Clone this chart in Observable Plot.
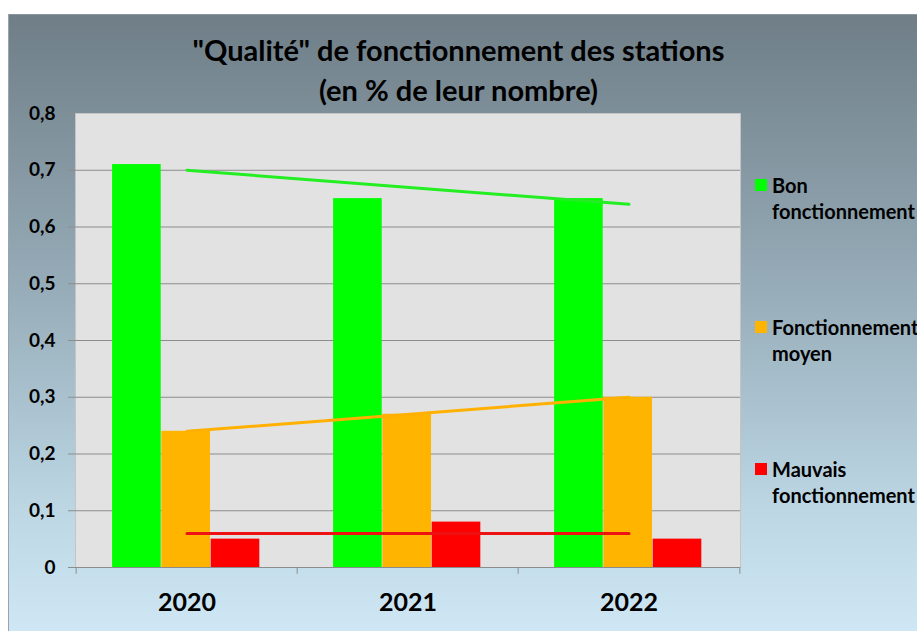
<!DOCTYPE html>
<html>
<head>
<meta charset="utf-8">
<script src="https://cdn.jsdelivr.net/npm/d3@7"></script>
<script src="https://cdn.jsdelivr.net/npm/@observablehq/plot@0.6"></script>
<style>
  html, body { margin: 0; padding: 0; background: #fff; }
  #wrap { position: relative; width: 917px; height: 631px; overflow: hidden; background: #fff; font-family: Lato, "Open Sans", sans-serif; }
  #bg { position: absolute; left: 8px; top: 14px; right: 0; bottom: 0; border-left: 1px solid #9aa4aa; border-top: 1px solid #8a969c;
        background: linear-gradient(to bottom, #6f7e87 0%, #97adb9 45%, #bcd6e4 80%, #cfe7f4 100%); }
  #title { position: relative; height: 100px; box-sizing: border-box; padding-top: 30px; text-align: center; font-weight: 700; font-size: 29px; line-height: 40px; color: #000; }
  #chart { position: relative; }
  #legend { position: absolute; left: 755px; top: 172px; }
  .item { position: relative; height: 52px; margin-bottom: 90px; padding-left: 17px; font-weight: 700; font-size: 20px; line-height: 26px; white-space: nowrap; color: #000; }
  .sw { position: absolute; left: 0; top: 7px; width: 12px; height: 12px; }
</style>
</head>
<body>
<div id="wrap">
  <div id="bg"></div>
  <div id="title">"Qualité" de fonctionnement des stations<br>(en % de leur nombre)</div>
  <div id="chart"></div>
  <div id="legend"></div>
</div>
<script>
const years = ["2020", "2021", "2022"];
const series = ["Bon fonctionnement", "Fonctionnement moyen", "Mauvais fonctionnement"];
const legendLines = [["Bon", "fonctionnement"], ["Fonctionnement", "moyen"], ["Mauvais", "fonctionnement"]];
const bon = [0.71, 0.65, 0.65];
const moyen = [0.24, 0.27, 0.30];
const mauvais = [0.05, 0.08, 0.05];
const trendYears = ["2020", "2022"];
const trendBon = [0.70, 0.64];
const trendMoyen = [0.24, 0.30];
const trendMauvais = [0.06, 0.06];
const yTicks = [0, 0.1, 0.2, 0.3, 0.4, 0.5, 0.6, 0.7, 0.8];
const colors = ["#00ff00", "#ffb400", "#ff0000"];
const trendColors = ["#22ee22", "#ffb000", "#ee1111"];

const W = 917, H = 531, ML = 75, MR = 177, MT = 13, MB = 64;
const band = (W - ML - MR) / years.length;
const barW = 49.3;
const inset = (band - barW) / 2;
const offsets = [-barW, 0, barW];

const values = [bon, moyen, mauvais];
const trends = [trendBon, trendMoyen, trendMauvais];

const barMarks = values.map((vals, i) =>
  Plot.barY(years.map((y, j) => ({year: y, value: vals[j]})), {
    x: "year", y: "value", fill: colors[i], insetLeft: inset, insetRight: inset, dx: offsets[i] - 0.8
  })
);
const trendMarks = trends.map((t, i) =>
  Plot.line(trendYears.map((y, j) => ({year: y, value: t[j]})), {
    x: "year", y: "value", stroke: trendColors[i], strokeWidth: 3
  })
);

const fmt = d => d === 0 ? "0" : d.toFixed(1).replace(".", ",");

const chart = Plot.plot({
  width: W, height: H,
  marginLeft: ML, marginRight: MR, marginTop: MT, marginBottom: MB,
  style: {background: "transparent", overflow: "visible", fontFamily: "Lato, 'Open Sans', sans-serif"},
  x: {type: "band", domain: years, padding: 0},
  y: {domain: [0, 0.8]},
  marks: [
    Plot.frame({fill: "#e2e2e2", stroke: "#c4c4c4"}),
    Plot.gridY(yTicks.filter(t => t > 0 && t < 0.8), {stroke: "#8c8c8c", strokeOpacity: 1}),
    ...barMarks,
    ...trendMarks,
    Plot.ruleY([0], {stroke: "#8c8c8c"}),
    Plot.ruleX(years, {x: d => d, dx: -band / 2, y1: 0, y2: -0.012, stroke: "#8c8c8c"}),
    Plot.ruleX(years.slice(-1), {x: d => d, dx: band / 2, y1: 0, y2: -0.012, stroke: "#8c8c8c"}),
    Plot.axisY({ticks: yTicks, tickFormat: fmt, tickSize: 7, tickPadding: 13, stroke: "#8c8c8c", fontSize: 19, fontWeight: "bold", fill: "#000", label: null}),
    Plot.axisX({tickSize: 0, tickPadding: 26, fontSize: 25, fontWeight: "bold", fill: "#000", label: null})
  ]
});
document.getElementById("chart").appendChild(chart);

const legend = document.getElementById("legend");
series.forEach((s, i) => {
  const item = document.createElement("div");
  item.className = "item";
  item.title = s;
  item.innerHTML = `<span class="sw" style="background:${colors[i]}"></span>${legendLines[i][0]}<br>${legendLines[i][1]}`;
  legend.appendChild(item);
});
</script>
</body>
</html>
